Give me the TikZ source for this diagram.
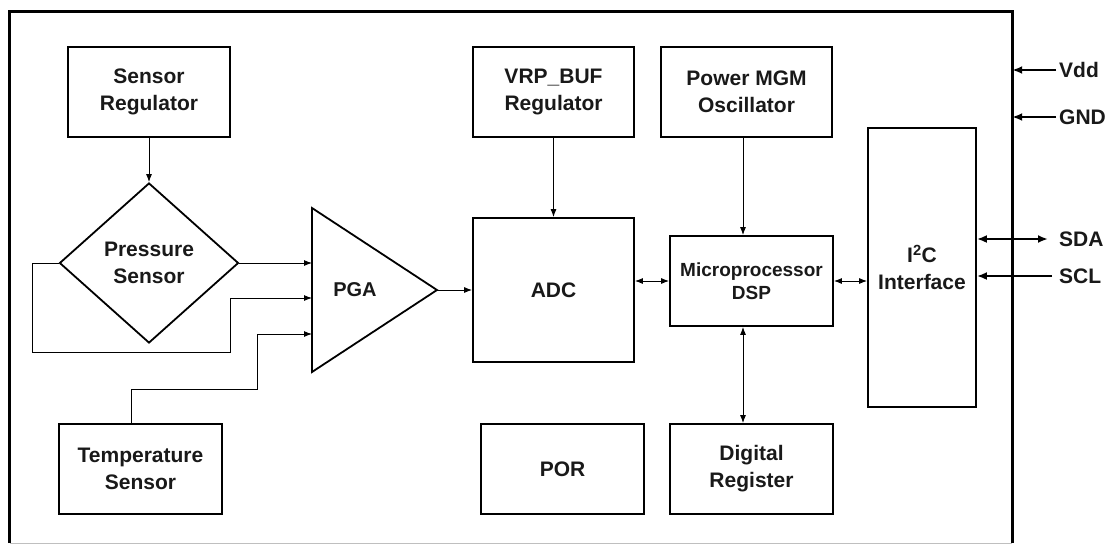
\documentclass[tikz,border=0pt]{standalone}
\usepackage{fontspec}
\setmainfont{Liberation Sans}
\usetikzlibrary{arrows.meta,shapes.geometric,calc}
\begin{document}
\begin{tikzpicture}[x=1pt,y=-1pt,
  txt/.style={font=\fontsize{21}{27}\selectfont\bfseries, align=center, text=black!90},
  blk/.style={draw, line width=1.8pt, txt, inner sep=0pt},
  conn/.style={line width=0.9pt, -{Latex[length=8pt,width=6pt]}},
  bconn/.style={line width=0.9pt, {Latex[length=8pt,width=6pt]}-{Latex[length=8pt,width=6pt]}},
  pin/.style={line width=2pt, -{Latex[length=10pt,width=8pt]}},
  bpin/.style={line width=2pt, {Latex[length=10pt,width=8pt]}-{Latex[length=10pt,width=8pt]}},
  lbl/.style={txt, anchor=west, inner sep=1pt}]
\useasboundingbox (0,0) rectangle (1113,547);
\fill[white] (0,0) rectangle (1113,547);

% chip outline
\node[minimum width=1002pt, minimum height=531pt, inner sep=0pt] (chip) at (511,277.5) {};
\draw[line width=3pt] (chip.south west) -- (chip.north west) -- (chip.north east) -- (chip.south east);
\draw[black!25, line width=1pt] (chip.south west) -- (chip.south east);

% blocks
\node[blk, minimum width=162pt, minimum height=90pt] (sreg) at (149,92) {Sensor\\Regulator};
\node[blk, minimum width=161pt, minimum height=90pt] (vrp) at (553.5,92) {VRP\_BUF\\Regulator};
\node[blk, minimum width=171pt, minimum height=90pt] (pmgm) at (746.5,92) {Power MGM\\Oscillator};
\node[blk, minimum width=161pt, minimum height=144pt] (adc) at (553.5,290) {ADC};
\node[blk, minimum width=163pt, minimum height=90pt, font=\fontsize{19}{23}\selectfont\bfseries] (mp) at (751.5,281) {Microprocessor\\DSP};
\node[blk, minimum width=108pt, minimum height=279pt] (i2c) at (922,267.5) {I\textsuperscript{2}C\\Interface};
\node[blk, minimum width=163pt, minimum height=90pt] (temp) at (140.5,469) {Temperature\\Sensor};
\node[blk, minimum width=163pt, minimum height=90pt] (por) at (562.5,469) {POR};
\node[blk, minimum width=163pt, minimum height=90pt] (dreg) at (751.5,469) {Digital\\Register};
\node[blk, diamond, aspect=1.1, minimum width=179pt, minimum height=160pt] (ps) at (149,263) {Pressure\\Sensor};

% PGA
\coordinate (pgaT) at (312,208);
\coordinate (pgaB) at (312,372);
\coordinate (pgaA) at (437,290);
\draw[line width=1.8pt, line join=miter] (pgaT) -- (pgaA) -- (pgaB) -- cycle;
\node[txt, font=\fontsize{20}{24}\selectfont\bfseries] (pga) at (355,290) {PGA};
\coordinate (in1) at (312,263);
\coordinate (in2) at (312,298);
\coordinate (in3) at (312,334);
\coordinate (fb1) at (32,352);
\coordinate (fb2) at (230,352);
\coordinate (t1) at (257,389);
\coordinate (bus) at (743,0);

% connectors
\draw[conn] (sreg.south) -- (ps.north);
\draw[conn] (ps.east) -- (in1);
\draw[conn] (ps.west) -| (fb1) -- (fb2) |- (in2);
\draw[conn] ([xshift=-9.5pt]temp.north) |- (t1) |- (in3);
\draw[conn] (pgaA) -- (adc.west);
\draw[conn] (vrp.south) -- (adc.north);
\draw[bconn] (mp.west -| adc.east) -- (mp.west);
\draw[conn] (pmgm.south -| bus) -- (mp.north -| bus);
\draw[bconn] (mp.east) -- (mp.east -| i2c.west);
\draw[bconn] (mp.south -| bus) -- (dreg.north -| bus);

% pins
\node[lbl] (vdd) at (1058,70) {Vdd};
\node[lbl] (gnd) at (1058,117) {GND};
\node[lbl] (sda) at (1058,239) {SDA};
\node[lbl] (scl) at (1058,276) {SCL};
\draw[pin] ([xshift=-2pt]vdd.west) -- (vdd.west -| chip.east);
\draw[pin] ([xshift=-2pt]gnd.west) -- (gnd.west -| chip.east);
\draw[bpin] (sda.west -| i2c.east) -- ([xshift=-10pt]sda.west);
\draw[pin] ([xshift=-6pt]scl.west) -- (scl.west -| i2c.east);
\end{tikzpicture}
\end{document}
